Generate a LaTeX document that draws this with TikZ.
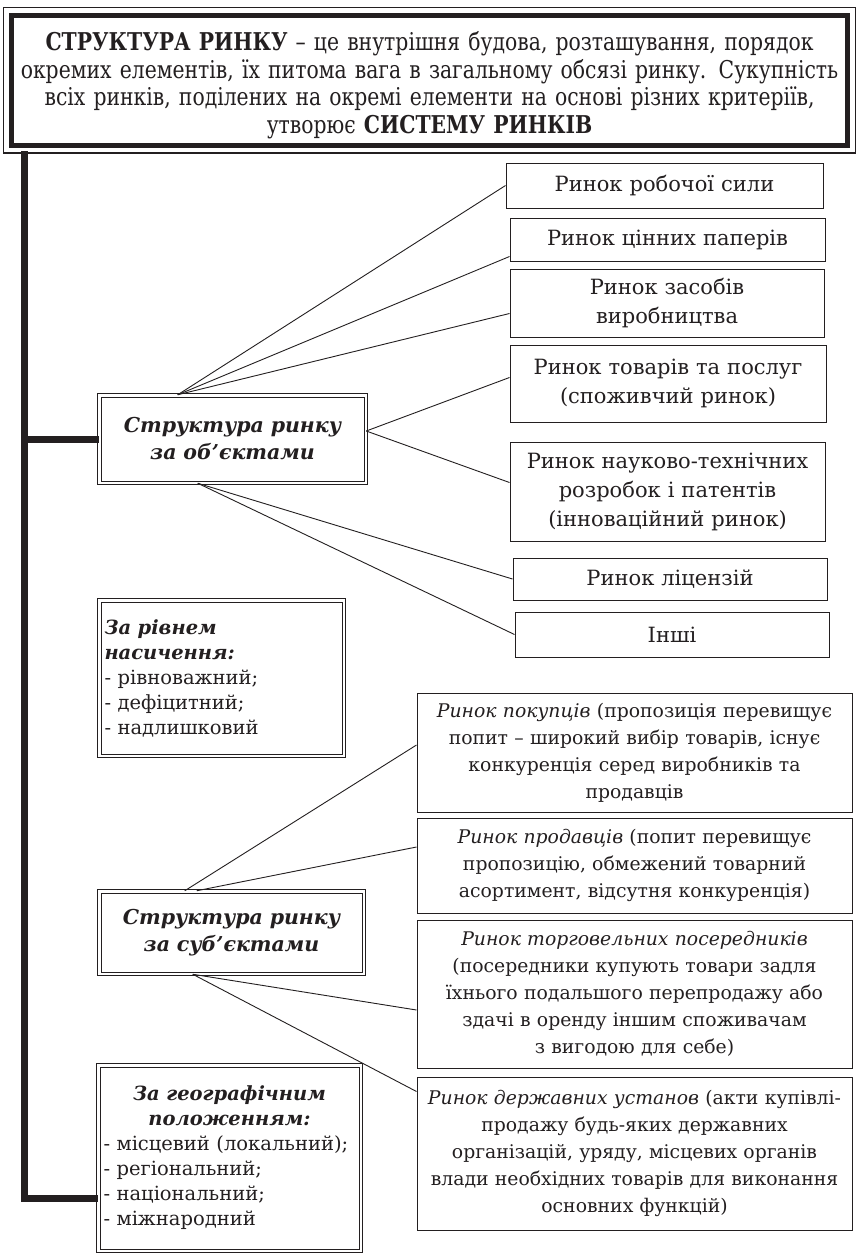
\documentclass[tikz,border=0pt]{standalone}
\usepackage{fontspec}
\setmainfont{DejaVu Serif}
\newfontfamily\condfont[FakeStretch=0.83]{DejaVu Serif}
\usetikzlibrary{calc}
\definecolor{ink}{RGB}{35,31,32}
\begin{document}
\begin{tikzpicture}[x=1pt,y=-1pt,
  every node/.style={text=ink},
  upfont/.style={font=\fontsize{21}{29}\selectfont},
  obfont/.style={font=\fontsize{20.5}{27}\selectfont},
  lowfont/.style={font=\fontsize{18.8}{27}\selectfont},
  sidefont/.style={font=\fontsize{19.5}{25}\selectfont},
  plainbox/.style={draw=ink, line width=1pt, align=center, inner xsep=5pt, inner ysep=2pt},
  dbox/.style={draw=ink, double=white, double distance=2.5pt, line width=1pt, inner xsep=5pt, inner ysep=2pt},
  link/.style={draw=ink, line width=0.9pt},
  bar/.style={draw=ink, line width=7pt, line join=miter}
]
\useasboundingbox[fill=white] (0,0) rectangle (859,1254);

% top box
\node[draw=ink, line width=5pt, minimum width=836pt, minimum height=130pt, text width=826pt, align=center,
      font=\condfont\fontsize{24.5}{27.5}\selectfont] (top) at (429.5,80)
 {\rule{0pt}{6pt}\\[-4pt]\textbf{СТРУКТУРА РИНКУ} – це внутрішня будова, розташування, порядок\\
  окремих елементів, їх питома вага в загальному обсязі ринку. Сукупність\\
  всіх ринків, поділених на окремі елементи на основі різних критеріїв,\\
  утворює \textbf{СИСТЕМУ РИНКІВ}};
\draw[draw=ink, line width=1.2pt] ([shift={(-5.5,-5)}]top.north west) rectangle ([shift={(5.5,5.5)}]top.south east);

% left side boxes
\node[dbox, obfont, minimum width=266.5pt, minimum height=87.5pt, text width=256pt, align=center] (ob) at (232.5,439)
 {\textbf{\textit{Структура ринку\\ за об’єктами}}};
\node[dbox, sidefont, minimum width=244.5pt, minimum height=155.5pt, text width=234pt, align=left] (sat) at (221.5,678)
 {\textbf{\textit{За рівнем\\ насичення:}}\\ - рівноважний;\\ - дефіцитний;\\ - надлишковий};
\node[dbox, obfont, minimum width=264.5pt, minimum height=82.5pt, text width=254pt, align=center] (sub) at (231.5,932.5)
 {\textbf{\textit{Структура ринку\\ за суб’єктами}}};
\node[dbox, sidefont, minimum width=262.5pt, minimum height=185.5pt, text width=252pt, align=left] (geo) at (229.5,1158)
 {\makebox[252pt][c]{\textbf{\textit{За географічним}}}\\ \makebox[252pt][c]{\textbf{\textit{положенням:}}}\\
  - місцевий (локальний);\\ - регіональний;\\ - національний;\\ - міжнародний};

% right boxes (objects)
\node[plainbox, upfont, minimum width=317pt, minimum height=45pt, text width=307pt] (r1) at (664.5,185.5) {Ринок робочої сили};
\node[plainbox, upfont, minimum width=315pt, minimum height=43pt, text width=305pt] (r2) at (667.5,239.5) {Ринок цінних паперів};
\node[plainbox, upfont, minimum width=314pt, minimum height=68pt, text width=304pt] (r3) at (667,303) {Ринок засобів\\ виробництва};
\node[plainbox, upfont, minimum width=316pt, minimum height=77pt, text width=306pt] (r4) at (668,383.5) {Ринок товарів та послуг\\ (споживчий ринок)};
\node[plainbox, upfont, minimum width=315pt, minimum height=99pt, text width=305pt] (r5) at (667.5,491.5) {Ринок науково-технічних\\ розробок і патентів\\ (інноваційний ринок)};
\node[plainbox, upfont, minimum width=314pt, minimum height=42pt, text width=304pt] (r6) at (670,579) {Ринок ліцензій};
\node[plainbox, upfont, minimum width=314pt, minimum height=45pt, text width=304pt] (r7) at (672,634.5) {Інші};

% right boxes (subjects)
\node[plainbox, lowfont, minimum width=435pt, minimum height=119pt, text width=425pt] (b1) at (634.5,752.5)
 {\textit{Ринок покупців} (пропозиція перевищує\\ попит – широкий вибір товарів, існує\\ конкуренція серед виробників та\\ продавців};
\node[plainbox, lowfont, minimum width=435pt, minimum height=95pt, text width=425pt] (b2) at (634.5,865.5)
 {\textit{Ринок продавців} (попит перевищує\\ пропозицію, обмежений товарний\\ асортимент, відсутня конкуренція)};
\node[plainbox, lowfont, minimum width=435pt, minimum height=148pt, text width=425pt] (b3) at (634.5,994)
 {\textit{Ринок торговельних посередників}\\ (посередники купують товари задля\\ їхнього подальшого перепродажу або\\ здачі в оренду іншим споживачам\\ з вигодою для себе)};
\node[plainbox, lowfont, minimum width=435pt, minimum height=153pt, text width=425pt] (b4) at (634.5,1153.5)
 {\textit{Ринок державних установ} (акти купівлі-\\ продажу будь-яких державних\\ організацій, уряду, місцевих органів\\ влади необхідних товарів для виконання\\ основних функцій)};

% connectors: objects
\draw[link] ([xshift=79pt]ob.north west) -- (r1.west);
\draw[link] ([xshift=79pt]ob.north west) -- ([yshift=5pt]r2.south west);
\draw[link] ([xshift=79pt]ob.north west) -- ([yshift=24pt]r3.south west);
\draw[link] ([yshift=8pt]ob.east) -- ([yshift=6pt]r4.west);
\draw[link] ([yshift=8pt]ob.east) -- ([yshift=9pt]r5.west);
\draw[link] ([xshift=99pt]ob.south west) -- (r6.west);
\draw[link] ([xshift=99pt]ob.south west) -- (r7.west);

% connectors: subjects
\draw[link] ([xshift=86pt]sub.north west) -- ([yshift=7.5pt]b1.west);
\draw[link] ([xshift=98pt]sub.north west) -- ([yshift=18.5pt]b2.west);
\draw[link] ([xshift=94pt]sub.south west) -- ([yshift=-16pt]b3.west);
\draw[link] ([xshift=94pt]sub.south west) -- ([yshift=-15pt]b4.north west);

% thick spine
\coordinate (spTop) at (24,151);
\coordinate (spBot) at (24,1198);
\draw[bar] (spTop) -- (spBot) -- (spBot -| geo.west);
\draw[bar] (spTop |- ob.west) -- (ob.west);
\end{tikzpicture}
\end{document}
